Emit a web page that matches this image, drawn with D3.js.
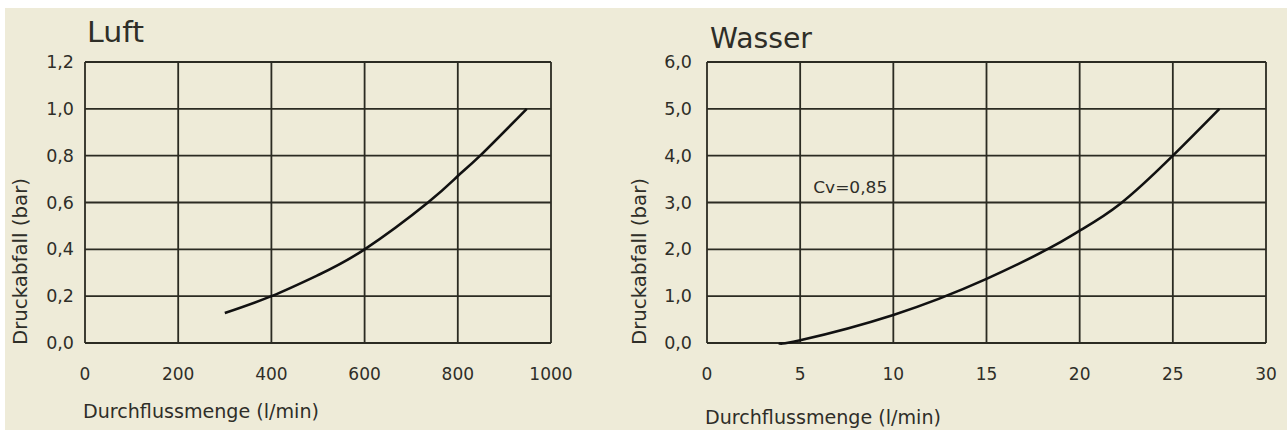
<!DOCTYPE html>
<html>
<head>
<meta charset="utf-8">
<script src="https://cdn.jsdelivr.net/npm/d3@7"></script>
<style>
  body { margin: 0; background: #fff; }
  svg { display: block; }
  text { font-family: "DejaVu Sans", sans-serif; fill: #2e2e28; }
</style>
</head>
<body>
<svg id="chart" width="1287" height="435"></svg>
<script>
// Luft
const luftTicksX = [0, 200, 400, 600, 800, 1000];
const luftTicksY = [0, 0.2, 0.4, 0.6, 0.8, 1.0, 1.2];
const luftFlow = [300, 400, 500, 600, 736, 800, 848, 948];
const luftDrop = [0.128, 0.2, 0.29, 0.4, 0.6, 0.713, 0.8, 1.0];

// Wasser
const wasserTicksX = [0, 5, 10, 15, 20, 25, 30];
const wasserTicksY = [0, 1, 2, 3, 4, 5, 6];
const wasserFlow = [3.86, 5, 10, 15, 18.4, 20, 22.2, 25, 27.5];
const wasserDrop = [0, 0.06, 0.6, 1.37, 2.03, 2.4, 2.98, 4.0, 5.0];

const xTitle = "Durchflussmenge (l/min)";
const yTitle = "Druckabfall (bar)";

const svg = d3.select("#chart");
const ink = "#2b2b22";

// beige sheet
svg.append("rect")
  .attr("x", 5).attr("y", 8)
  .attr("width", 1282).attr("height", 422)
  .attr("fill", "#eeebd8");

const fmtComma = d3.format(".1f");
const comma = v => fmtComma(v).replace(".", ",");

const drawPanel = opts => {
  const g = svg.append("g");
  const x = d3.scaleLinear().domain(opts.xDomain).range([opts.left, opts.right]);
  const y = d3.scaleLinear().domain(opts.yDomain).range([343, 62]);

  // grid
  g.selectAll("line.gx").data(opts.ticksX).join("line")
    .attr("x1", d => x(d)).attr("x2", d => x(d))
    .attr("y1", y.range()[0]).attr("y2", y.range()[1])
    .attr("stroke", ink).attr("stroke-width", 1.8);
  g.selectAll("line.gy").data(opts.ticksY).join("line")
    .attr("y1", d => y(d)).attr("y2", d => y(d))
    .attr("x1", x.range()[0]).attr("x2", x.range()[1])
    .attr("stroke", ink).attr("stroke-width", 1.8);

  // tick labels
  g.selectAll("text.tx").data(opts.ticksX).join("text")
    .attr("x", d => x(d)).attr("y", 380)
    .attr("text-anchor", "middle")
    .attr("font-size", 17)
    .text(d => d);
  g.selectAll("text.ty").data(opts.ticksY).join("text")
    .attr("x", opts.left - opts.yLabelGap).attr("y", d => y(d) + 6)
    .attr("text-anchor", "end")
    .attr("font-size", 17.5)
    .text(d => comma(d));

  // titles
  g.append("text")
    .attr("x", opts.titleX).attr("y", opts.titleY)
    .attr("font-size", 28)
    .attr("textLength", opts.titleLen).attr("lengthAdjust", "spacingAndGlyphs")
    .text(opts.title);
  g.append("text")
    .attr("x", opts.left - 2).attr("y", opts.xTitleY)
    .attr("font-size", 19)
    .attr("textLength", 236).attr("lengthAdjust", "spacingAndGlyphs")
    .text(xTitle);
  g.append("text")
    .attr("transform", `translate(${opts.yTitleX},345) rotate(-90)`)
    .attr("font-size", 19)
    .attr("textLength", 167).attr("lengthAdjust", "spacingAndGlyphs")
    .text(yTitle);

  // curve
  const pts = opts.flow.map((f, i) => [f, opts.drop[i]]);
  g.append("path")
    .datum(pts)
    .attr("fill", "none")
    .attr("stroke", "#111")
    .attr("stroke-width", 2.6)
    .attr("d", d3.line().x(d => x(d[0])).y(d => y(d[1])).curve(d3.curveNatural));

  return { g, x, y };
};

drawPanel({
  left: 85, right: 551,
  xDomain: [0, 1000], yDomain: [0, 1.2],
  ticksX: luftTicksX, ticksY: luftTicksY,
  flow: luftFlow, drop: luftDrop,
  yLabelGap: 11,
  title: "Luft", titleX: 87, titleY: 42, titleLen: 57,
  xTitleY: 418, yTitleX: 27
});

const wasser = drawPanel({
  left: 707, right: 1266,
  xDomain: [0, 30], yDomain: [0, 6],
  ticksX: wasserTicksX, ticksY: wasserTicksY,
  flow: wasserFlow, drop: wasserDrop,
  yLabelGap: 15,
  title: "Wasser", titleX: 710, titleY: 48, titleLen: 102,
  xTitleY: 424, yTitleX: 646
});

wasser.g.append("text")
  .attr("x", wasser.x(5.7)).attr("y", wasser.y(3.2))
  .attr("font-size", 16)
  .attr("textLength", 74).attr("lengthAdjust", "spacingAndGlyphs")
  .text("Cv=0,85");
</script>
</body>
</html>
